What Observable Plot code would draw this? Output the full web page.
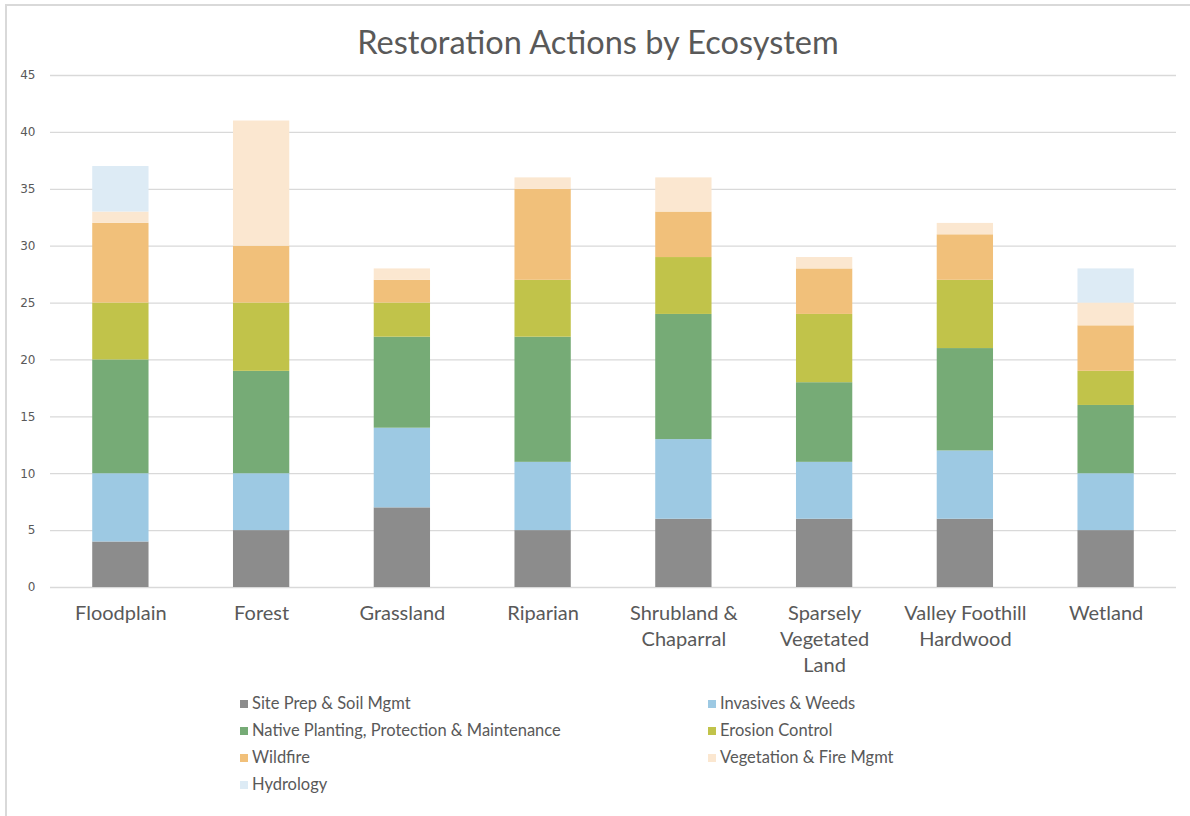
<!DOCTYPE html>
<html>
<head>
<meta charset="utf-8">
<script src="https://cdn.jsdelivr.net/npm/d3@7"></script>
<script src="https://cdn.jsdelivr.net/npm/@observablehq/plot@0.6"></script>
<style>
  html, body { margin: 0; padding: 0; background: #fff; }
  #frame { position: absolute; left: 5px; top: 4px; width: 1200px; height: 830px;
           border-left: 2px solid #d9d9d9; border-top: 2px solid #d9d9d9; box-sizing: border-box; }
  #title { position: absolute; left: 3px; top: 21px; width: 1190px; text-align: center;
           font-family: Lato, sans-serif; font-size: 32.5px; color: #595959; line-height: 42px; }
  #chart { position: absolute; left: 0; top: 60px; }
  #legend { position: absolute; left: 0; top: 690px; font-family: Lato, sans-serif; font-size: 16.5px; color: #595959; }
  .item { position: absolute; white-space: nowrap; height: 27px; line-height: 27px; display: flex; align-items: center; }
  .sw { width: 8px; height: 8px; margin-right: 4px; display: inline-block; }
</style>
</head>
<body>
<div id="frame"></div>
<div id="title">Restoration Actions by Ecosystem</div>
<div id="chart"></div>
<div id="legend"></div>
<script>
const ecosystems = ["Floodplain", "Forest", "Grassland", "Riparian", "Shrubland & Chaparral", "Sparsely Vegetated Land", "Valley Foothill Hardwood", "Wetland"];
const xLabels = ["Floodplain", "Forest", "Grassland", "Riparian", "Shrubland &\nChaparral", "Sparsely\nVegetated\nLand", "Valley Foothill\nHardwood", "Wetland"];
const series = ["Site Prep & Soil Mgmt", "Invasives & Weeds", "Native Planting, Protection & Maintenance", "Erosion Control", "Wildfire", "Vegetation & Fire Mgmt", "Hydrology"];
const colors = ["#8c8c8c", "#9dc9e3", "#76ab76", "#c1c34a", "#f1c07a", "#fbe7d0", "#ddebf5"];

const sitePrep   = [4, 5, 7, 5, 6, 6, 6, 5];
const invasives  = [6, 5, 7, 6, 7, 5, 6, 5];
const native     = [10, 9, 8, 11, 11, 7, 9, 6];
const erosion    = [5, 6, 3, 5, 5, 6, 6, 3];
const wildfire   = [7, 5, 2, 8, 4, 4, 4, 4];
const vegFire    = [1, 11, 1, 1, 3, 1, 1, 2];
const hydrology  = [4, 0, 0, 0, 0, 0, 0, 3];
const yTicks = [0, 5, 10, 15, 20, 25, 30, 35, 40, 45];

const seriesValues = [sitePrep, invasives, native, erosion, wildfire, vegFire, hydrology];
const data = series.flatMap((s, i) => ecosystems.map((e, j) => ({ecosystem: e, series: s, value: seriesValues[i][j]})));

const chart = Plot.plot({
  width: 1190,
  height: 620,
  marginTop: 15,
  marginBottom: 93,
  marginLeft: 50,
  marginRight: 14,
  style: {background: "transparent"},
  x: {domain: ecosystems, paddingInner: 0.6, paddingOuter: 0.3, round: false},
  y: {domain: [0, 45]},
  color: {domain: series, range: colors},
  marks: [
    Plot.gridY(yTicks, {stroke: "#d9d9d9", strokeOpacity: 1, strokeWidth: 1.3}),
    Plot.barY(data, {x: "ecosystem", y: "value", fill: "series", order: series}),
    Plot.axisY(yTicks, {tickSize: 0, tickPadding: 15, fontFamily: "DejaVu Sans, Verdana, sans-serif", fontSize: 12, fill: "#595959", label: null}),
    Plot.axisX({tickSize: 0, tickPadding: 14, tickFormat: (d) => xLabels[ecosystems.indexOf(d)], fontFamily: "Lato, sans-serif", fontSize: 20, fill: "#595959", lineHeight: 1.3, label: null})
  ]
});
document.getElementById("chart").appendChild(chart);

const legend = document.getElementById("legend");
const positions = [[240, 0], [708, 0], [240, 27], [708, 27], [240, 54], [708, 54], [240, 81]];
series.forEach((s, i) => {
  const div = document.createElement("div");
  div.className = "item";
  div.style.left = positions[i][0] + "px";
  div.style.top = positions[i][1] + "px";
  const sw = document.createElement("span");
  sw.className = "sw";
  sw.style.background = colors[i];
  div.appendChild(sw);
  div.appendChild(document.createTextNode(s));
  legend.appendChild(div);
});
</script>
</body>
</html>
